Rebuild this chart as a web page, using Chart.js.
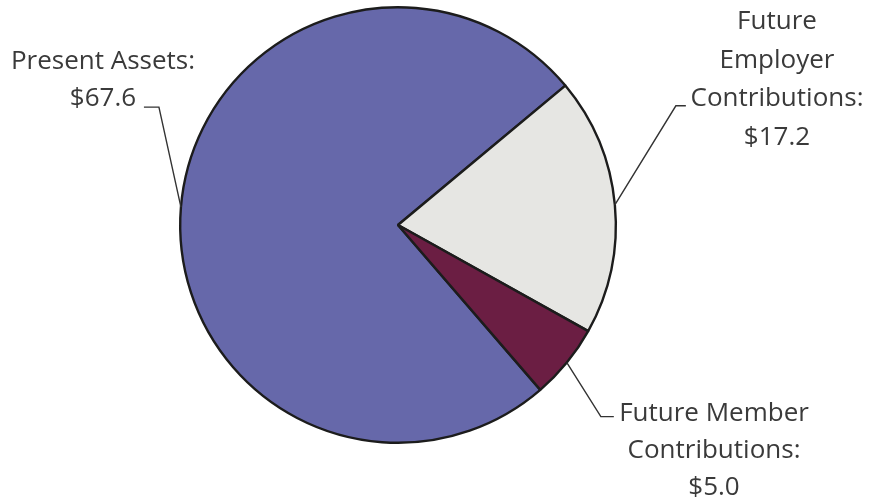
<!DOCTYPE html>
<html>
<head>
<meta charset="utf-8">
<script src="https://cdn.jsdelivr.net/npm/chart.js@4/dist/chart.umd.min.js"></script>
<style>
  html, body { margin: 0; padding: 0; background: #fff; }
  #wrap { width: 871px; height: 501px; position: relative; }
</style>
</head>
<body>
<div id="wrap"><canvas id="myChart"></canvas></div>
<script>
// data
const categories = ['Present Assets', 'Future Employer Contributions', 'Future Member Contributions'];
const values = [67.6, 17.2, 5.0];
const labelLines = [
    ['Present Assets:', '$67.6'],
    ['Future', 'Employer', 'Contributions:', '$17.2'],
    ['Future Member', 'Contributions:', '$5.0']
];

const sliceColors = ['#6668AA', '#E6E6E3', '#6B1E43'];

// where the callout text sits and how the leader line bends (relative to the slice edge point)
const callouts = [
    { elbow: [-22, -100], end: [-37, -100], textX: 103, textY: 62, lineH: 37 },
    { elbow: [61, -99], end: [71, -99], textX: 777, textY: 22, lineH: 38.5 },
    { elbow: [34, 54], end: [47, 54], textX: 714, textY: 414, lineH: 37 }
];

const calloutPlugin = {
    id: 'callouts',
    afterDatasetsDraw(chart) {
        const ctx = chart.ctx;
        const arcs = chart.getDatasetMeta(0).data;
        ctx.save();
        arcs.forEach((arc, i) => {
            const c = callouts[i];
            const mid = (arc.startAngle + arc.endAngle) / 2;
            const ex = arc.x + arc.outerRadius * Math.cos(mid);
            const ey = arc.y + arc.outerRadius * Math.sin(mid);
            ctx.beginPath();
            ctx.strokeStyle = '#333';
            ctx.lineWidth = 1.4;
            ctx.moveTo(ex, ey);
            ctx.lineTo(ex + c.elbow[0], ey + c.elbow[1]);
            ctx.lineTo(ex + c.end[0], ey + c.end[1]);
            ctx.stroke();

            ctx.fillStyle = '#3a3a3a';
            ctx.font = '26px "Open Sans"';
            ctx.textAlign = 'center';
            ctx.textBaseline = 'middle';
            labelLines[i].forEach((t, j) => {
                ctx.fillText(t, c.textX, c.textY + j * c.lineH);
            });
        });
        ctx.restore();
    }
};

const ctx = document.getElementById('myChart').getContext('2d');
const conf = {
    type: 'pie',
    data: {
        labels: categories,
        datasets: [{
            data: values,
            backgroundColor: sliceColors,
            borderColor: '#1c1c1c',
            borderWidth: 2.4
        }]
    },
    options: {
        responsive: true,
        maintainAspectRatio: false,
        animation: false,
        rotation: 139.2,
        layout: { padding: { left: 179, right: 254, top: 6, bottom: 57 } },
        plugins: {
            legend: false,
            tooltip: { enabled: false }
        }
    },
    plugins: [calloutPlugin]
};
const myChart = new Chart(ctx, conf);
</script>
</body>
</html>
